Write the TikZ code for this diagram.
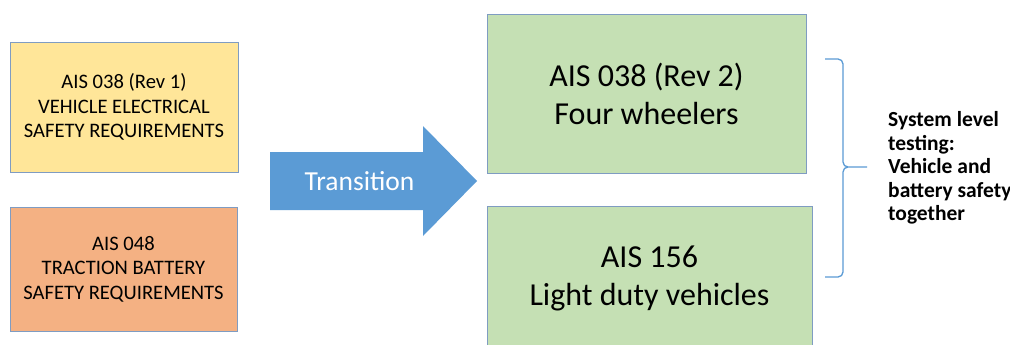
\documentclass[tikz,border=0pt]{standalone}
\usepackage{fontspec}
\setmainfont{Carlito}
\definecolor{yellowfill}{HTML}{FFE699}
\definecolor{orangefill}{HTML}{F4B183}
\definecolor{greenfill}{HTML}{C5E0B4}
\definecolor{boxline}{HTML}{7F9CC2}
\definecolor{accent}{HTML}{5B9BD5}
\begin{document}
\begin{tikzpicture}[x=1pt,y=-1pt,
  box/.style={draw=boxline, line width=0.8pt, inner sep=0pt, align=center, text=black},
  smalltxt/.style={font=\fontsize{20.6}{24.5}\selectfont},
  bigtxt/.style={font=\fontsize{32}{38}\selectfont},
  notetxt/.style={font=\fontsize{21.5}{23.5}\selectfont\bfseries, align=left, anchor=west, inner sep=0pt},
]
\useasboundingbox (0,0) rectangle (1010,345);
\fill[white] (0,0) rectangle (1010,345);

% current standards
\node[box, fill=yellowfill, smalltxt, minimum width=228pt, minimum height=130pt]
  (rev1) at (124,107) {AIS 038 (Rev 1)\\VEHICLE ELECTRICAL\\SAFETY REQUIREMENTS};
\node[box, fill=orangefill, smalltxt, minimum width=227pt, minimum height=124pt]
  (ais048) at (123.5,269) {AIS 048\\TRACTION BATTERY\\SAFETY REQUIREMENTS};

% transition arrow
\fill[accent] (270,152) -- (423,152) -- (423,126) -- (477,181) -- (423,236)
  -- (423,210) -- (270,210) -- cycle;
\node[text=white, font=\fontsize{27.5}{30}\selectfont, inner sep=0pt] (trans) at (359.5,181) {Transition};

% new standards
\node[box, fill=greenfill, bigtxt, minimum width=319pt, minimum height=159pt]
  (rev2) at (646.5,93.5) {AIS 038 (Rev 2)\\Four wheelers};
\node[box, fill=greenfill, bigtxt, minimum width=325pt, minimum height=145pt]
  (ais156) at (649.5,278.5) {AIS 156\\Light duty vehicles};

% right brace grouping the new standards
\draw[accent, line width=1.3pt, line join=round]
  (825,59) -- (838,59) to[out=0,in=90] (843,64) -- (843,162)
  to[out=-90,in=180] (848,167) -- (867,167)
  (848,167) to[out=180,in=90] (843,172) -- (843,272)
  to[out=-90,in=0] (838,277) -- (825,277);

\node[notetxt] (note) at (888,168) {System level\\testing:\\Vehicle and\\battery safety\\together};
\end{tikzpicture}
\end{document}
